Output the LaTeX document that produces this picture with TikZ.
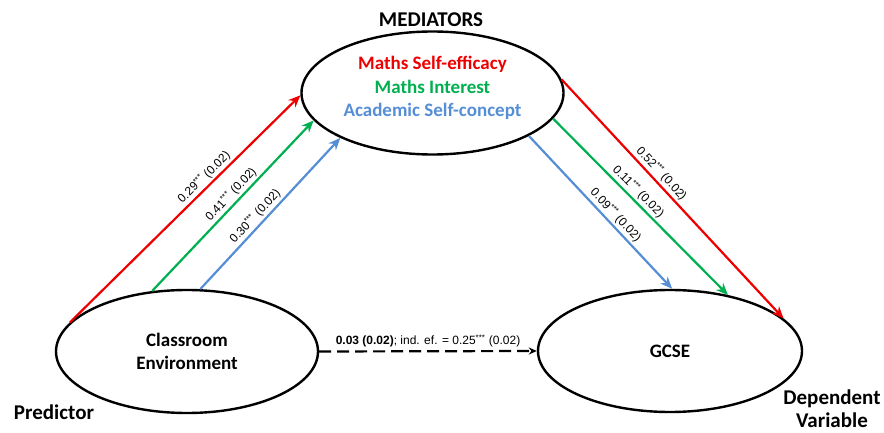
\documentclass[tikz,border=0pt]{standalone}
\usepackage{fontspec}
\setmainfont{Carlito}
\newfontfamily\coeffont{Liberation Sans}
\usetikzlibrary{arrows.meta,shapes.geometric}
\definecolor{medred}{RGB}{238,0,0}
\definecolor{medgreen}{RGB}{0,176,80}
\definecolor{medblue}{RGB}{85,142,213}

\begin{document}
\begin{tikzpicture}[x=1pt,y=-1pt,>={Stealth[length=12pt,width=10pt]},
    construct/.style={draw,ellipse,line width=2.4pt,inner sep=0pt,align=center,font=\bfseries\fontsize{19}{23}\selectfont},
    effect/.style={->,line width=2.2pt},
    coef/.style={sloped,above,inner sep=2pt,text=black,font=\coeffont\fontsize{12}{14}\selectfont},
    tag/.style={align=center,font=\bfseries\fontsize{21}{23}\selectfont}]
    \useasboundingbox (0,0) rectangle (884,433);

    \node[construct,minimum width=262pt,minimum height=123pt] (med) at (432.5,93) {};
    \node[align=center,font=\bfseries\fontsize{19}{23.3}\selectfont] (medlist) at (432.5,88)
      {\textcolor{medred}{Maths Self-efficacy}\\\textcolor{medgreen}{Maths Interest}\\\textcolor{medblue}{Academic Self-concept}};
    \node[construct,minimum width=262pt,minimum height=123pt] (env) at (187,351.5) {Classroom\\Environment};
    \node[construct,minimum width=264pt,minimum height=122pt] (gcse) at (670,351) {GCSE};

    \node[tag] (medtag) at (431,19.5) {MEDIATORS};
    \node[tag] (predtag) at (54,412) {Predictor};
    \node[tag] (deptag) at (832,408.5) {Dependent\\Variable};

    % a paths
    \draw[effect,medred] (env.166) -- node[coef,pos=0.61] {0.29\textsuperscript{***} (0.02)} (med.181);
    \draw[effect,medgreen] (env.120.6) -- node[coef,pos=0.53] {0.41\textsuperscript{***} (0.02)} (med.193.1);
    \draw[effect,medblue] (env.78.4) -- node[coef,pos=0.44] {0.30\textsuperscript{***} (0.02)} (med.206.9);

    % b paths
    \draw[effect,medred] (med.6.6) -- node[coef,pos=0.42] {0.52\textsuperscript{***} (0.02)} (gcse.16.5);
    \draw[effect,medgreen] (med.-12) -- node[coef,pos=0.45] {0.11\textsuperscript{***} (0.02)} (gcse.44.5);
    \draw[effect,medblue] (med.-24.9) -- node[coef,pos=0.56] {0.09\textsuperscript{***} (0.02)} (gcse.88.4);

    % direct path
    \draw[->,line width=2.2pt,dash pattern=on 12pt off 6pt,>={Stealth[length=8pt,width=7pt]}] (env.east) -- node[above,inner sep=3pt,font=\coeffont\fontsize{12}{14}\selectfont]
      {\textbf{0.03 (0.02)}; ind. ef. = 0.25\textsuperscript{***} (0.02)} (gcse.west);
  \end{tikzpicture}
\end{document}
